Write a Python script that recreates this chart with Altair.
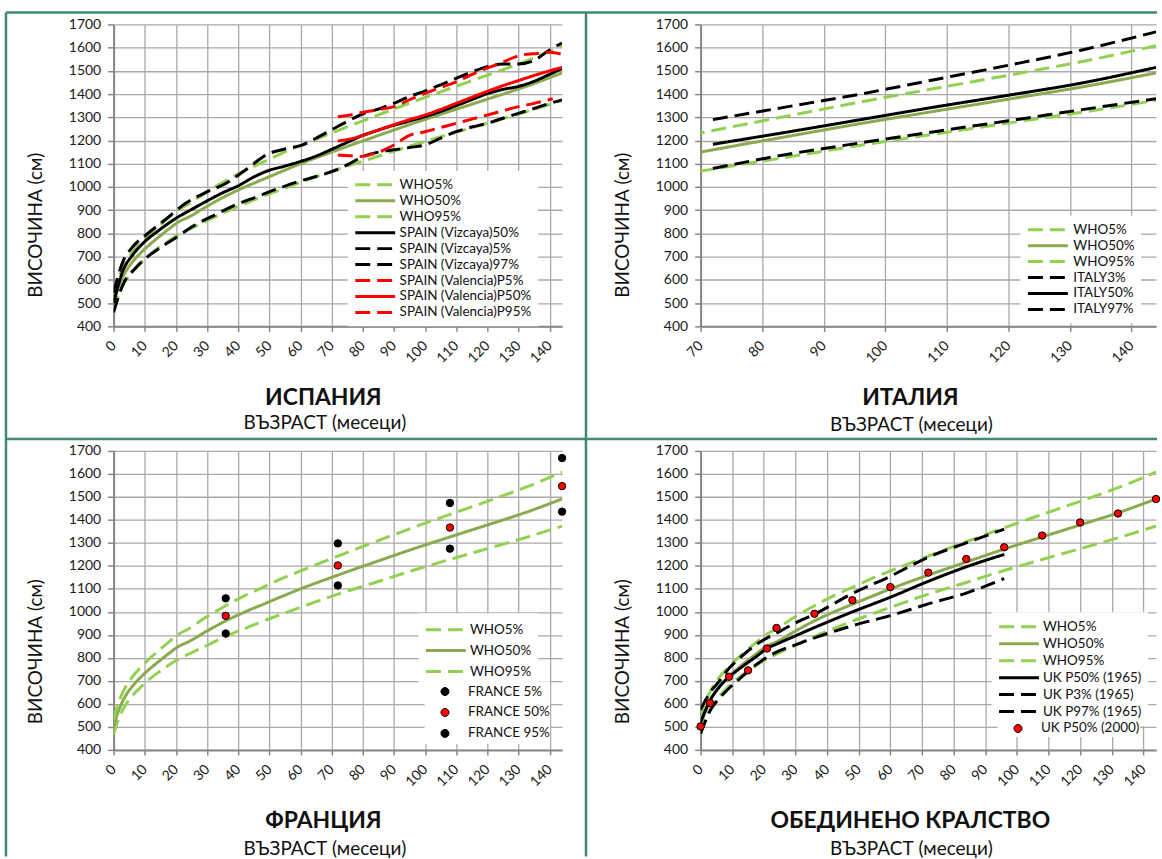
import math
import altair as alt
import pandas as pd

FONT = "Lato"
LG = "#92D050"
OG = "#8AAA4E"
BLK = "#000000"
RED = "#FF0000"
FRAME = "#40896B"
DASH = [15, 7]
SOLID = [1, 0]

# ---- WHO reference curves (mm) ----
who_age = [0, 1, 2, 3, 4, 6, 9, 12, 15, 18, 21, 24, 30, 36, 42, 48, 54, 60, 72, 84, 96, 108, 120, 132, 144]
who_p5 = [468, 512, 547, 576, 599, 635, 677, 713, 743, 771, 796, 816, 855, 893, 927, 960, 990, 1020, 1077, 1128, 1180, 1228, 1275, 1322, 1373]
who_p50 = [500, 547, 584, 614, 639, 676, 720, 757, 790, 822, 851, 870, 917, 961, 999, 1033, 1067, 1100, 1160, 1217, 1273, 1326, 1378, 1431, 1491]
who_p95 = [530, 582, 621, 652, 678, 717, 763, 802, 838, 872, 904, 926, 980, 1027, 1070, 1107, 1145, 1178, 1243, 1305, 1366, 1424, 1481, 1540, 1608]

# ---- Spain ----
viz50_age = [0, 3, 6, 10, 14, 20, 25, 30, 35, 40, 45, 50, 55, 60, 65, 70, 75, 80, 85, 90, 95, 100, 105, 110, 115, 120, 125, 130, 135, 140, 144]
viz50 = [500, 640, 705, 765, 808, 865, 903, 940, 975, 1005, 1043, 1072, 1090, 1110, 1133, 1162, 1192, 1222, 1245, 1266, 1284, 1303, 1325, 1350, 1376, 1402, 1420, 1433, 1455, 1485, 1510]
viz97_age = [0, 3, 6, 11, 17, 23, 30, 36, 43, 49, 56, 60, 65, 70, 75, 80, 85, 90, 95, 100, 105, 110, 115, 120, 125, 130, 135, 140, 144]
viz97 = [545, 680, 740, 800, 864, 929, 979, 1015, 1080, 1138, 1167, 1178, 1210, 1246, 1282, 1315, 1335, 1360, 1390, 1413, 1440, 1468, 1495, 1518, 1530, 1530, 1545, 1590, 1620]
viz5_age = [0, 3, 7, 10, 14, 20, 26, 33, 39, 46, 53, 59, 65, 70, 75, 80, 85, 90, 95, 100, 105, 110, 115, 120, 125, 130, 135, 140, 144]
viz5 = [460, 580, 650, 690, 730, 782, 835, 883, 922, 958, 994, 1022, 1045, 1066, 1095, 1131, 1150, 1160, 1170, 1181, 1210, 1238, 1258, 1274, 1296, 1317, 1338, 1360, 1375]
val5_age = [72, 76, 79, 84, 90, 95, 100, 105, 110, 115, 120, 125, 130, 135, 141]
val5 = [1138, 1134, 1131, 1145, 1181, 1222, 1238, 1256, 1274, 1292, 1310, 1328, 1346, 1360, 1380]
val50_age = [72, 76, 80, 85, 90, 95, 100, 105, 110, 115, 120, 125, 130, 135, 140, 144]
val50 = [1198, 1207, 1222, 1245, 1268, 1290, 1310, 1334, 1360, 1386, 1412, 1436, 1458, 1480, 1500, 1515]
val95_age = [72, 76, 81, 86, 90, 96, 100, 105, 110, 117, 124, 131, 136, 140, 144]
val95 = [1302, 1310, 1324, 1335, 1346, 1382, 1403, 1428, 1453, 1496, 1532, 1568, 1575, 1580, 1571]

# ---- Italy ----
it_age = [72, 84, 96, 108, 120, 132, 144]
it3 = [1080, 1140, 1190, 1238, 1285, 1333, 1380]
it50 = [1184, 1236, 1290, 1344, 1395, 1448, 1515]
it97 = [1290, 1345, 1400, 1462, 1524, 1590, 1668]

# ---- France ----
fr_age = [36, 72, 108, 144]
fr5 = [906, 1115, 1275, 1436]
fr50 = [983, 1202, 1367, 1547]
fr95 = [1059, 1298, 1474, 1669]

# ---- United Kingdom ----
uk65_age = [0, 3, 6, 9, 12, 18, 21, 24, 30, 36, 48, 60, 72, 84, 96]
uk65_p50 = [520, 615, 675, 717, 750, 810, 841, 860, 896, 932, 1000, 1064, 1133, 1196, 1250]
uk65q_age = [0, 3, 6, 9, 12, 18, 24, 30, 36, 48, 60, 72, 84, 96]
uk65_p3 = [470, 570, 625, 668, 705, 775, 825, 857, 887, 940, 984, 1035, 1082, 1145]
uk65_p97 = [575, 650, 700, 755, 795, 862, 908, 952, 990, 1080, 1155, 1238, 1300, 1360]
uk00_age = [0, 3, 9, 15, 21, 24, 36, 48, 60, 72, 84, 96, 108, 120, 132, 144]
uk00_p50 = [502, 604, 718, 746, 841, 930, 992, 1051, 1108, 1171, 1230, 1281, 1332, 1389, 1428, 1491]

Y_TICKS = list(range(400, 1701, 100))
X_TICKS_FULL = list(range(0, 141, 10))
X_TICKS_IT = list(range(70, 141, 10))

WHO = [("WHO5%", who_age, who_p5), ("WHO50%", who_age, who_p50), ("WHO95%", who_age, who_p95)]
WHO_ENT = [("WHO5%", LG, DASH), ("WHO50%", OG, SOLID), ("WHO95%", LG, DASH)]

# small circle drawn inside a 40px legend symbol box (unit coords scaled by 20)
CIRCLE = "M0.2,0 " + " ".join(
    "L{:.4f},{:.4f}".format(0.2 * math.cos(k * math.pi / 10), 0.2 * math.sin(k * math.pi / 10)) for k in range(1, 20)
) + " Z"

LEG_FS = 13.5


def long(series):
    rows = []
    for name, ages, vals in series:
        for a, v in zip(ages, vals):
            rows.append({"age": a, "value": v, "series": name})
    return pd.DataFrame(rows)


def panel(line_series, line_entries, point_series, point_cols, xdom, xticks, w, h, leg, country, dx, tdy=0):
    lx, ly, pitch, loff = leg
    names = [e[0] for e in line_entries]
    cols = [e[1] for e in line_entries]
    dashes = [e[2] for e in line_entries]
    line_legend = alt.Legend(
        title=None, orient="none", legendX=lx, legendY=ly, direction="vertical",
        symbolType="stroke", symbolSize=1600, symbolStrokeWidth=3,
        labelFont=FONT, labelFontSize=LEG_FS, labelColor="#111111", labelOffset=loff,
        clipHeight=pitch, rowPadding=0, padding=6, fillColor="white", zindex=1,
    )
    x = alt.X("age:Q", scale=alt.Scale(domain=xdom, nice=False, zero=False),
              axis=alt.Axis(values=xticks, format="d", title=country, labelAngle=-45,
                            labelAlign="right", labelBaseline="middle", labelPadding=12,
                            tickSize=5, titleFontSize=23, titleFontWeight="bold",
                            titleX=210, titleY=78, titleAlign="center", titleBaseline="alphabetic"))
    y = alt.Y("value:Q", scale=alt.Scale(domain=[400, 1700], nice=False, zero=False),
              axis=alt.Axis(values=Y_TICKS, format="d", title="ВИСОЧИНА (см)", tickSize=6,
                            labelPadding=7, titleFontSize=19, titleFontWeight="normal",
                            titleX=-78, titleY=201, titleAngle=270, titleAlign="center",
                            titleBaseline="middle"))
    color = alt.Color("series:N", scale=alt.Scale(domain=names, range=cols), legend=line_legend)
    sdash = alt.StrokeDash("series:N", scale=alt.Scale(domain=names, range=dashes), legend=line_legend)
    layers = [
        alt.Chart(long(line_series)).mark_line(strokeWidth=3, clip=True, interpolate="monotone")
        .encode(x=x, y=y, color=color, strokeDash=sdash)
    ]
    if point_series:
        pnames = [s[0] for s in point_series]
        pt_legend = alt.Legend(
            title=None, orient="none", legendX=lx + 6, legendY=ly + 6 + len(names) * pitch, direction="vertical",
            symbolType=CIRCLE, symbolSize=1600, symbolStrokeWidth=1, symbolStrokeColor="black",
            symbolOpacity=1,
            labelFont=FONT, labelFontSize=LEG_FS, labelColor="#111111", labelOffset=loff,
            clipHeight=pitch, rowPadding=0, padding=0, fillColor="white", zindex=1,
        )
        layers.append(
            alt.Chart(long(point_series)).mark_circle(size=55, opacity=1, stroke="black", strokeWidth=1)
            .encode(x=x, y=y, fill=alt.Fill("series:N", scale=alt.Scale(domain=pnames, range=point_cols), legend=pt_legend))
        )
    return layers, dict(width=w, height=h, title=alt.TitleParams(
        text="ВЪЗРАСТ (месеци)", orient="bottom", anchor="middle", frame="group",
        font=FONT, fontSize=19, fontWeight="normal", color="#111111", dx=dx, dy=tdy, offset=7))


# Spain (its frame rules reach the page bottom, so its bottom title is pulled back up with dy)
sp_layers, sp_props = panel(
    WHO + [("SPAIN (Vizcaya)50%", viz50_age, viz50), ("SPAIN (Vizcaya)5%", viz5_age, viz5),
           ("SPAIN (Vizcaya)97%", viz97_age, viz97), ("SPAIN (Valencia)P5%", val5_age, val5),
           ("SPAIN (Valencia)P50%", val50_age, val50), ("SPAIN (Valencia)P95%", val95_age, val95)],
    WHO_ENT + [("SPAIN (Vizcaya)50%", BLK, SOLID), ("SPAIN (Vizcaya)5%", BLK, DASH),
               ("SPAIN (Vizcaya)97%", BLK, DASH), ("SPAIN (Valencia)P5%", RED, DASH),
               ("SPAIN (Valencia)P50%", RED, SOLID), ("SPAIN (Valencia)P95%", RED, DASH)],
    None, None,
    [0, 144], X_TICKS_FULL, 450, 303, (235, 147, 16, 3), "ИСПАНИЯ", -13, tdy=-452)

# frame lines (decoration)
one = alt.Data(values=[{"k": 1}])
frame = [
    alt.Chart(one).mark_rule(color=FRAME, strokeWidth=2.5).encode(x=alt.value(-108), x2=alt.value(1047), y=alt.value(-12)),
    alt.Chart(one).mark_rule(color=FRAME, strokeWidth=2.5).encode(x=alt.value(-108), x2=alt.value(1047), y=alt.value(416)),
    alt.Chart(one).mark_rule(color=FRAME, strokeWidth=2.5).encode(x=alt.value(-108), y=alt.value(-12), y2=alt.value(835)),
    alt.Chart(one).mark_rule(color=FRAME, strokeWidth=2.5).encode(x=alt.value(474), y=alt.value(-12), y2=alt.value(835)),
]
spain = alt.layer(*(frame + sp_layers)).properties(**sp_props)

# Italy
it_layers, it_props = panel(
    WHO + [("ITALY3%", it_age, it3), ("ITALY50%", it_age, it50), ("ITALY97%", it_age, it97)],
    WHO_ENT + [("ITALY3%", BLK, DASH), ("ITALY50%", BLK, SOLID), ("ITALY97%", BLK, DASH)],
    None, None,
    [70, 144], X_TICKS_IT, 457, 303, (321, 192, 16, 4), "ИТАЛИЯ", -17)
italy = alt.layer(*it_layers).properties(**it_props)

# France
fr_layers, fr_props = panel(
    WHO, WHO_ENT,
    [("FRANCE 5%", fr_age, fr5), ("FRANCE 50%", fr_age, fr50), ("FRANCE 95%", fr_age, fr95)],
    [BLK, RED, BLK],
    [0, 144], X_TICKS_FULL, 450, 300, (306, 163, 20.7, 2.5), "ФРАНЦИЯ", -13)
france = alt.layer(*fr_layers).properties(**fr_props)

# UK
uk_layers, uk_props = panel(
    WHO + [("UK P50% (1965)", uk65_age, uk65_p50), ("UK P3% (1965)", uk65q_age, uk65_p3), ("UK P97% (1965)", uk65q_age, uk65_p97)],
    WHO_ENT + [("UK P50% (1965)", BLK, SOLID), ("UK P3% (1965)", BLK, DASH), ("UK P97% (1965)", BLK, DASH)],
    [("UK P50% (2000)", uk00_age, uk00_p50)],
    [RED],
    [0, 144], X_TICKS_FULL, 457, 300, (292, 162, 17, 2.5), "ОБЕДИНЕНО КРАЛСТВО", -17)
uk = alt.layer(*uk_layers).properties(**uk_props)

chart = alt.concat(spain, italy, france, uk, columns=2, spacing={"row": 125, "column": 139}, bounds="flush").resolve_scale(
    x="independent", y="independent", color="independent", strokeDash="independent", fill="independent"
).resolve_legend(
    color="independent", strokeDash="independent", fill="independent"
).properties(
    padding={"left": 4, "top": 9, "right": 0, "bottom": 0}, background="white"
).configure_view(stroke=None).configure_axis(
    labelFont=FONT, titleFont=FONT, labelFontSize=14, labelColor="#1a1a1a", titleColor="#111111",
    domainColor="#868686", domainWidth=2, tickColor="#868686", tickWidth=1.5,
    gridColor="#a9a9a9", gridWidth=1.3,
)

chart.save("out.html", embed_options={"renderer": "svg", "actions": False})
